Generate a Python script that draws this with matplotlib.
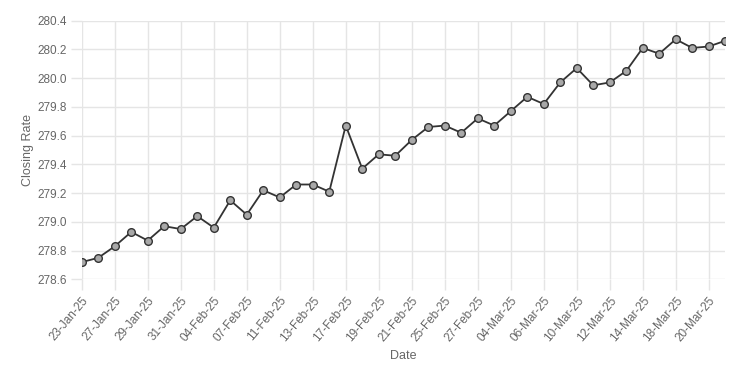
import matplotlib.pyplot as plt

# closing rates
dates = ['23-Jan-25', '24-Jan-25', '27-Jan-25', '28-Jan-25', '29-Jan-25', '30-Jan-25',
         '31-Jan-25', '03-Feb-25', '04-Feb-25', '06-Feb-25', '07-Feb-25', '10-Feb-25',
         '11-Feb-25', '12-Feb-25', '13-Feb-25', '14-Feb-25', '17-Feb-25', '18-Feb-25',
         '19-Feb-25', '20-Feb-25', '21-Feb-25', '24-Feb-25', '25-Feb-25', '26-Feb-25',
         '27-Feb-25', '28-Feb-25', '04-Mar-25', '05-Mar-25', '06-Mar-25', '07-Mar-25',
         '10-Mar-25', '11-Mar-25', '12-Mar-25', '13-Mar-25', '14-Mar-25', '17-Mar-25',
         '18-Mar-25', '19-Mar-25', '20-Mar-25', '21-Mar-25']
closing_rate = [278.72, 278.75, 278.83, 278.93, 278.87, 278.97, 278.95, 279.04, 278.96, 279.15,
                279.05, 279.22, 279.17, 279.26, 279.26, 279.21, 279.67, 279.37, 279.47, 279.46,
                279.57, 279.66, 279.67, 279.62, 279.72, 279.67, 279.77, 279.87, 279.82, 279.97,
                280.07, 279.95, 279.97, 280.05, 280.21, 280.17, 280.27, 280.21, 280.22, 280.26]
y_ticks = [278.6, 278.8, 279.0, 279.2, 279.4, 279.6, 279.8, 280.0, 280.2, 280.4]

plt.rcParams['font.family'] = ['Liberation Sans', 'DejaVu Sans']
text_col = '#666666'
grid_col = '#e5e5e5'

fig = plt.figure(figsize=(7.5, 3.75), dpi=100)
ax = fig.add_axes([0.109, 0.255, 0.858, 0.69])

x = list(range(len(dates)))
ax.plot(x, closing_rate, color='#333333', linewidth=1.3,
        marker='o', markersize=5.5, markerfacecolor='#a8a8a8',
        markeredgecolor='#333333', markeredgewidth=1.0, zorder=3)

ax.set_xlim(0, len(dates) - 1)
ax.set_ylim(278.6, 280.4)
ax.set_yticks(y_ticks)
ax.set_yticklabels([f'{v:.1f}' for v in y_ticks])
ax.set_xticks(x[::2])
ax.set_xticklabels(dates[::2], rotation=50, ha='right', rotation_mode='anchor')

ax.grid(True, color=grid_col, linewidth=1)
ax.set_axisbelow(True)
for s in ax.spines.values():
    s.set_visible(False)
ax.tick_params(axis='both', colors=grid_col, length=8, width=1, labelcolor=text_col,
               labelsize=8.5, pad=3)

ax.set_xlabel('Date', color=text_col, fontsize=9, labelpad=4)
ax.set_ylabel('Closing Rate', color=text_col, fontsize=9, labelpad=2)

plt.savefig('out.png', dpi=100)
